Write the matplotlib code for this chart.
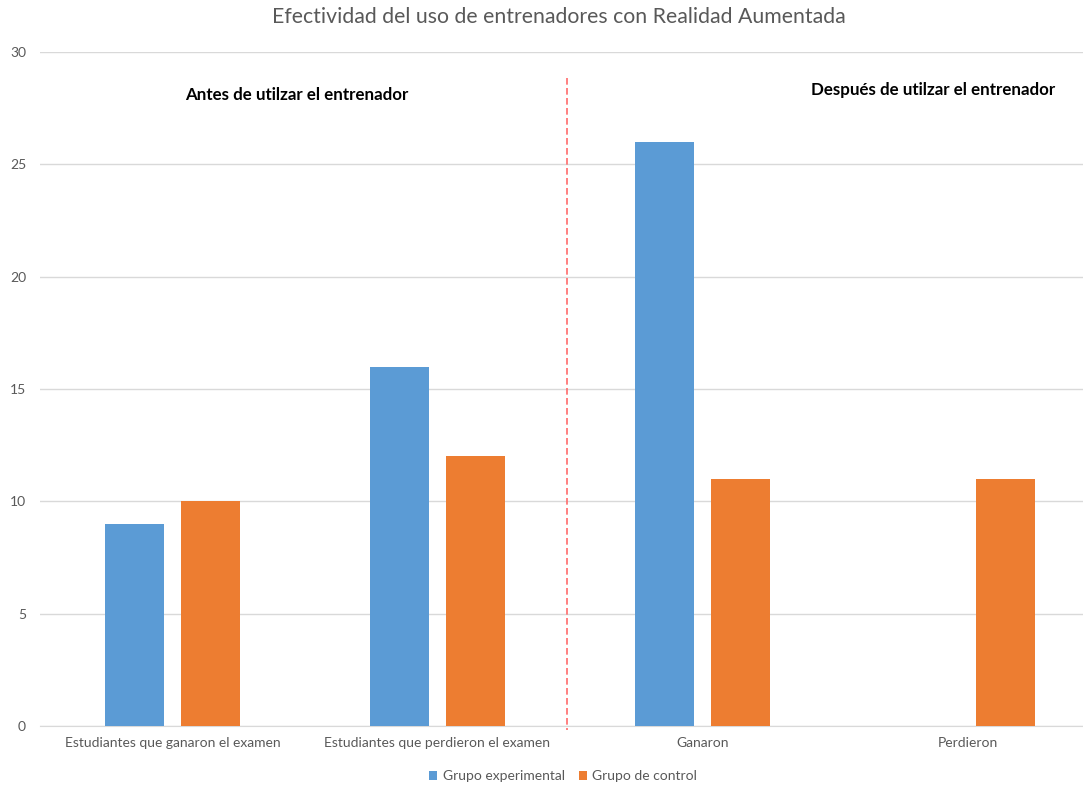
import matplotlib
matplotlib.use("Agg")
import matplotlib.pyplot as plt
import numpy as np

categories = ["Estudiantes que ganaron el examen", "Estudiantes que perdieron el examen", "Ganaron", "Perdieron"]
experimental = [9, 16, 26, 0]
control = [10, 12, 11, 11]
series_names = ["Grupo experimental", "Grupo de control"]
title = "Efectividad del uso de entrenadores con Realidad Aumentada"
note_before = "Antes de utilzar el entrenador"
note_after = "Después de utilzar el entrenador"

plt.rcParams['font.family'] = ['Lato', 'DejaVu Sans']

fig = plt.figure(figsize=(10.83, 7.87), dpi=100)
ax = fig.add_axes([40/1083, 1-726/787, 1060/1083, (726-52)/787])

x = np.arange(len(categories))
w = 0.223
off = 0.1425
blue = "#5B9BD5"
orange = "#ED7D31"
ax.bar(x - off, experimental, w, color=blue, label=series_names[0], zorder=3)
ax.bar(x + off, control, w, color=orange, label=series_names[1], zorder=3)

ax.set_xlim(-0.5, len(categories) - 0.5)
ax.set_ylim(0, 30)
ax.set_yticks(range(0, 31, 5))
ax.yaxis.grid(True, color="#D9D9D9", linewidth=1, zorder=0)
ax.set_axisbelow(True)
for s in ["left", "right", "top"]:
    ax.spines[s].set_visible(False)
ax.spines["bottom"].set_color("#D9D9D9")
ax.tick_params(axis="both", length=0, colors="#595959", labelsize=10)
ax.tick_params(axis="y", pad=10)
ax.tick_params(axis="x", pad=8)
ax.set_xticks(x)
ax.set_xticklabels(categories)

ax.plot([1.49, 1.49], [28.85, -0.2], color="#FF6B6B", linestyle=(0, (4, 2)), linewidth=1.2, clip_on=False, zorder=4)

ax.text(0.47, 28.1, note_before, ha="center", va="center", fontsize=12.2, fontweight="bold", color="black")
ax.text(2.87, 28.3, note_after, ha="center", va="center", fontsize=12.2, fontweight="bold", color="black")

fig.text(559/1083, 1-17/787, title, ha="center", va="center", fontsize=15.3, color="#595959")

leg = fig.legend(loc="center", bbox_to_anchor=(563/1083, 1-776/787), ncol=2, frameon=False,
                 fontsize=10, handlelength=0.6, handleheight=0.6, handletextpad=0.4, columnspacing=1.0)
for t in leg.get_texts():
    t.set_color("#595959")

fig.savefig("out.png", dpi=100)
